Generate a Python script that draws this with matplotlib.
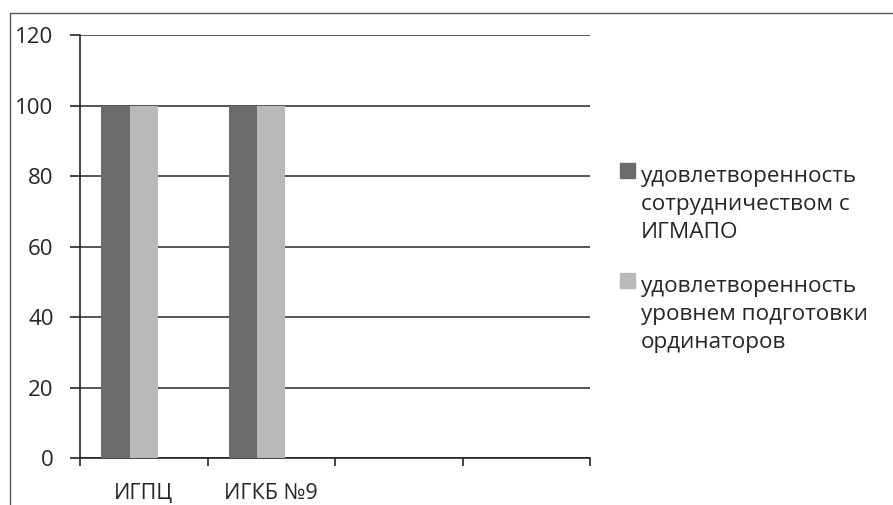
import numpy as np
import matplotlib.pyplot as plt
from matplotlib.patches import Rectangle

plt.rcParams['font.family'] = ['Open Sans', 'DejaVu Sans']

# Data
categories = ['ИГПЦ', 'ИГКБ №9', '', '']
coop = [100, 100]          # удовлетворенность сотрудничеством с ИГМАПО
training = [100, 100]      # удовлетворенность уровнем подготовки ординаторов
labels = ['удовлетворенность\nсотрудничеством с\nИГМАПО',
          'удовлетворенность\nуровнем подготовки\nординаторов']

dark = '#6c6c6c'
light = '#b9b9b9'
ink = '#262626'
W, H = 893, 505

fig = plt.figure(figsize=(W / 100, H / 100), dpi=100)
ax = fig.add_axes([80 / W, 1 - 458 / H, 510 / W, 423 / H])

w = 0.222
centers = np.arange(len(coop)) + 0.5
ax.bar(centers - w, coop, width=w, color=dark, zorder=3)
ax.bar(centers, training, width=w, color=light, zorder=3)

ax.set_xlim(0, len(categories))
ax.set_ylim(0, 120)
ax.set_yticks(np.arange(0, 121, 20))
ax.yaxis.grid(True, color='#3a3a3a', linewidth=1.2)
ax.set_axisbelow(True)

ax.set_xticks(np.arange(0, len(categories) + 1))
ax.set_xticklabels([])
ax.set_xticks(np.arange(len(categories)) + 0.5, minor=True)
ax.set_xticklabels(categories, minor=True)
ax.tick_params(axis='x', which='minor', length=0, pad=18, labelsize=15.5, labelcolor=ink)
ax.tick_params(axis='x', which='major', length=6, width=1.2, color=ink, direction='out')
ax.tick_params(axis='y', length=7, width=1.2, color=ink, labelsize=16, labelcolor=ink, pad=12)

for s in ['top', 'right']:
    ax.spines[s].set_visible(False)
for s in ['left', 'bottom']:
    ax.spines[s].set_color(ink)
    ax.spines[s].set_linewidth(1.2)

# legend: square at the first line of each entry
legend_tops = [163, 273]
for lab, col, top in zip(labels, [dark, light], legend_tops):
    fig.patches.append(Rectangle((620 / W, 1 - (top + 15) / H), 15 / W, 15 / H,
                                 transform=fig.transFigure, color=col))
    fig.text(641 / W, 1 - (top + 3) / H, lab, ha='left', va='top',
             fontsize=16.2, color=ink, linespacing=1.45)

# outer frame of the scanned chart
fig.patches.append(Rectangle((10 / W, -0.1), 1.2, 1 - 13 / H + 0.1,
                             transform=fig.transFigure, fill=False,
                             edgecolor='#555555', linewidth=1.0))

fig.savefig('out.png', dpi=100)
